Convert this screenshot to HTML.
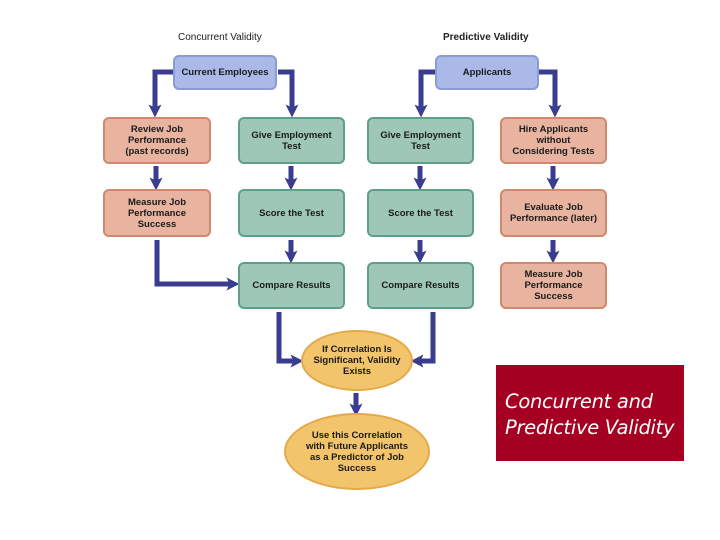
<!DOCTYPE html>
<html><head><style>
body{margin:0;background:#fff;width:720px;height:540px;overflow:hidden;position:relative;font-family:"Liberation Sans",sans-serif}
.b{position:absolute;box-sizing:border-box;border-radius:6px;display:flex;align-items:center;justify-content:center;text-align:center;font-size:9.5px;line-height:11px;color:#1a1a1a;font-weight:bold}
.bl{background:#aab9e8;border:2px solid #8a9cd6}
.g{background:#9fc7b8;border:2px solid #5f9e89}
.s{background:#e8b4a0;border:2px solid #d0896f}
.h{position:absolute;font-size:10px;font-weight:bold;color:#222}
.e{position:absolute;border-radius:50%;background:#f2c46c;border:2px solid #e5a949;box-sizing:border-box;display:flex;align-items:center;justify-content:center;text-align:center;font-size:9.5px;line-height:11px;font-weight:bold;color:#1a1a1a}
</style></head><body>
<div class="h" style="left:178px;top:32px;font-weight:normal">Concurrent Validity</div>
<div class="h" style="left:443px;top:32px">Predictive Validity</div>
<svg width="720" height="540" style="position:absolute;left:0;top:0">
<defs><marker id="a" markerWidth="2.6" markerHeight="2.6" refX="1.3" refY="1.3" orient="auto" markerUnits="strokeWidth"><path d="M0,0 L2.6,1.3 L0,2.6 L0.6,1.3z" fill="#3a3d8f"/></marker></defs>
<g stroke="#3a3d8f" stroke-width="5" fill="none" marker-end="url(#a)">
<path d="M174,72 H155 V111"/>
<path d="M278,72 H292 V111"/>
<path d="M436,72 H421 V111"/>
<path d="M538,72 H555 V111"/>
<path d="M156,166 V184"/><path d="M291,166 V184"/><path d="M420,166 V184"/><path d="M553,166 V184"/>
<path d="M291,240 V257"/><path d="M420,240 V257"/><path d="M553,240 V257"/>
<path d="M157,240 V284 H233"/>
<path d="M279,312 V361 H297"/>
<path d="M433,312 V361 H417"/>
<path d="M356,393 V410"/>
</g></svg>
<div class="b bl" style="left:173px;top:55px;width:104px;height:35px;font-size:9.5px">Current Employees</div>
<div class="b bl" style="left:435px;top:55px;width:104px;height:35px">Applicants</div>
<div class="b s" style="left:103px;top:117px;width:108px;height:47px">Review Job<br>Performance<br>(past records)</div>
<div class="b g" style="left:238px;top:117px;width:107px;height:47px">Give Employment<br>Test</div>
<div class="b g" style="left:367px;top:117px;width:107px;height:47px">Give Employment<br>Test</div>
<div class="b s" style="left:500px;top:117px;width:107px;height:47px">Hire Applicants<br>without<br>Considering Tests</div>
<div class="b s" style="left:103px;top:189px;width:108px;height:48px">Measure Job<br>Performance<br>Success</div>
<div class="b g" style="left:238px;top:189px;width:107px;height:48px">Score the Test</div>
<div class="b g" style="left:367px;top:189px;width:107px;height:48px">Score the Test</div>
<div class="b s" style="left:500px;top:189px;width:107px;height:48px">Evaluate Job<br>Performance (later)</div>
<div class="b g" style="left:238px;top:262px;width:107px;height:47px">Compare Results</div>
<div class="b g" style="left:367px;top:262px;width:107px;height:47px">Compare Results</div>
<div class="b s" style="left:500px;top:262px;width:107px;height:47px">Measure Job<br>Performance<br>Success</div>
<div class="e" style="left:301px;top:330px;width:112px;height:61px">If Correlation Is<br>Significant, Validity<br>Exists</div>
<div class="e" style="left:284px;top:413px;width:146px;height:77px">Use this Correlation<br>with Future Applicants<br>as a Predictor of Job<br>Success</div>
<div style="position:absolute;left:496px;top:365px;width:188px;height:96px;background:#a50021"></div>
<div style="position:absolute;left:505px;top:389px;color:#fff;font-style:italic;font-size:19.5px;line-height:26px;font-family:'DejaVu Sans',sans-serif;font-weight:200;letter-spacing:-0.3px">Concurrent and<br>Predictive Validity</div>
</body></html>
